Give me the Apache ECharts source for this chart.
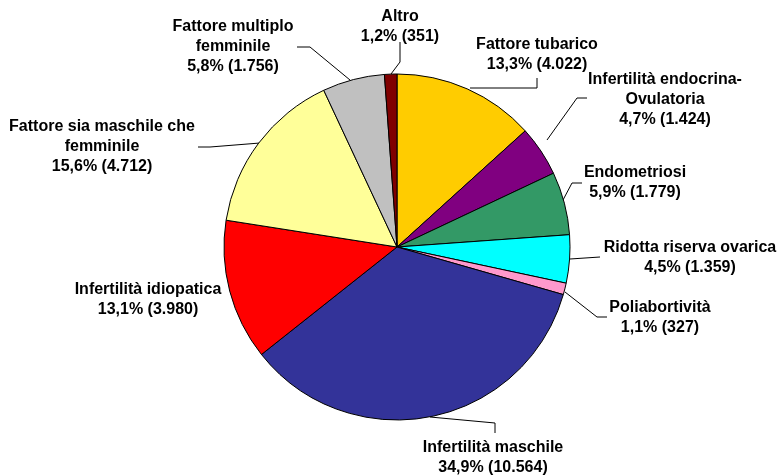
<!DOCTYPE html>
<html lang="it">
<head>
<meta charset="utf-8">
<title>Indicazioni</title>
<script src="https://cdn.jsdelivr.net/npm/echarts@6/dist/echarts.min.js"></script>
</head>
<body style="margin:0;background:#fff">
<div id="main" style="width:779px;height:475px;"></div>
<script type="text/javascript">
    // dati
    var categorie = [
        'Fattore tubarico',
        'Infertilità endocrina-\nOvulatoria',
        'Endometriosi',
        'Ridotta riserva ovarica',
        'Poliabortività',
        'Infertilità maschile',
        'Infertilità idiopatica',
        'Fattore sia maschile che\nfemminile',
        'Fattore multiplo\nfemminile',
        'Altro'
    ];
    var valori = [4022, 1424, 1779, 1359, 327, 10564, 3980, 4712, 1756, 351];
    var colori = ['#FFCC00', '#800080', '#339966', '#00FFFF', '#FF99CC',
                  '#333399', '#FF0000', '#FFFF99', '#C0C0C0', '#800000'];

    // posizione etichette (centro del testo) e linee guida
    var posEtichette = [
        [537, 55], [665, 100], [635, 183], [690, 258], [660, 318],
        [493, 458], [148, 300], [102, 147], [233, 47], [400, 27]
    ];
    var lineeGuida = [
        [[470, 88], [537, 88], [537, 78]],
        [[547, 140], [577, 98], [587, 98]],
        [[563, 200], [572, 183], [582, 183]],
        [[570, 259], [585, 258], [600, 257]],
        [[565, 292], [597, 317], [607, 317]],
        [[430, 417], [495, 423], [495, 433]],
        null,
        [[260, 143], [210, 147], [198, 147]],
        [[350, 80], [310, 47], [297, 47]],
        [[391, 74], [400, 62], [400, 42]]
    ];

    var totale = valori.reduce(function (a, b) { return a + b; }, 0);

    function formatNum(n) {
        return String(n).replace(/\B(?=(\d{3})+(?!\d))/g, '.');
    }

    var data = categorie.map(function (nome, i) {
        var item = {
            name: nome,
            value: valori[i],
            itemStyle: { color: colori[i] }
        };
        if (!lineeGuida[i]) {
            item.labelLine = { show: false };
        }
        return item;
    });

    var myChart = echarts.init(document.getElementById('main'));

    var option = {
        animation: false,
        series: [{
            type: 'pie',
            center: [397, 247],
            radius: 173,
            startAngle: 90,
            clockwise: true,
            avoidLabelOverlap: false,
            itemStyle: {
                borderColor: '#000',
                borderWidth: 1
            },
            label: {
                show: true,
                position: 'outside',
                color: '#000',
                fontFamily: 'Liberation Sans, Arial, sans-serif',
                fontWeight: 'bold',
                fontSize: 16,
                lineHeight: 20,
                align: 'center',
                formatter: function (p) {
                    var perc = (p.value / totale * 100).toFixed(1).replace('.', ',');
                    return p.name + '\n' + perc + '% (' + formatNum(p.value) + ')';
                }
            },
            labelLine: {
                show: true,
                lineStyle: { color: '#000', width: 1 }
            },
            labelLayout: function (params) {
                var i = params.dataIndex;
                var res = {
                    x: posEtichette[i][0],
                    y: posEtichette[i][1],
                    align: 'center',
                    verticalAlign: 'middle'
                };
                if (lineeGuida[i]) {
                    res.labelLinePoints = lineeGuida[i];
                }
                return res;
            },
            emphasis: { disabled: true },
            data: data
        }]
    };

    myChart.setOption(option);
</script>
</body>
</html>
